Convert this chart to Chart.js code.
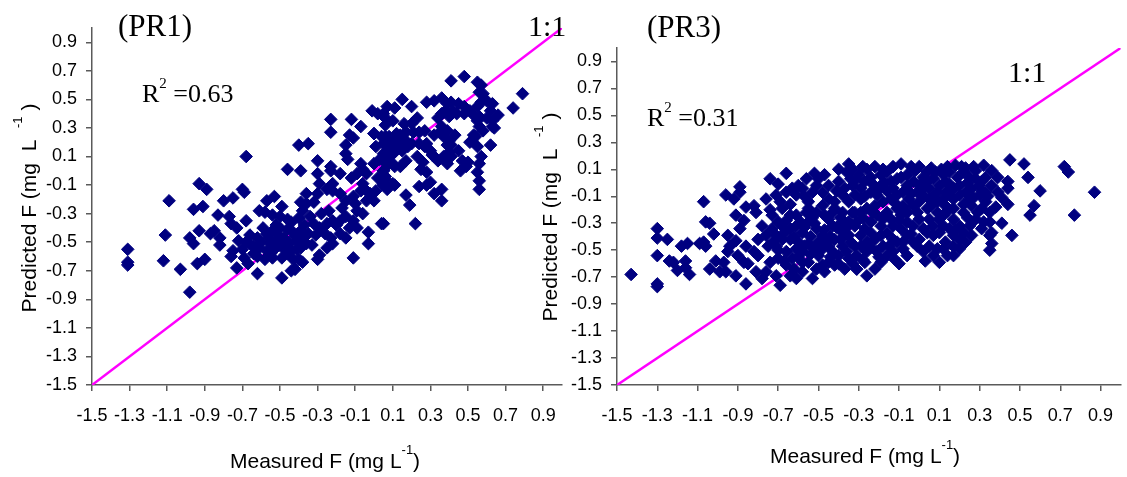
<!DOCTYPE html>
<html>
<head>
  <title>Predicted vs measured F</title>
  <style>
    body { margin: 0; background: #fff; width: 1127px; height: 477px; overflow: hidden; position: relative; }
    .box { position: absolute; top: 0; }
    #leftBox { left: 0; }
    #rightBox { left: 528px; }
  </style>
</head>
<body>
  <div class="box" id="leftBox"><canvas id="pr1" width="575" height="477"></canvas></div>
  <div class="box" id="rightBox"><canvas id="pr3" width="600" height="477"></canvas></div>

  <script src="https://cdn.jsdelivr.net/npm/chart.js"></script>
  <script>
    // axis ticks, same on both panels and both axes
    const tickValues = [-1.5, -1.3, -1.1, -0.9, -0.7, -0.5, -0.3, -0.1, 0.1, 0.3, 0.5, 0.7, 0.9];
    const axisMin = -1.5;
    const axisMax = 1.0;
    const oneToOne = [-1.5, 1.0];

    // PR1: [measured, predicted]
    const pr1Points = [
      [-1.31,-0.55],[-1.31,-0.64],[-1.31,-0.66],[-1.11,-0.45],[-1.12,-0.63],[-1.09,-0.21],[-1.03,-0.69],[-0.98,-0.85],
      [-0.94,-0.65],[-0.90,-0.62],[-0.98,-0.47],[-0.96,-0.51],[-0.93,-0.42],[-0.96,-0.27],[-0.91,-0.25],[-0.93,-0.09],
      [-0.89,-0.13],[-0.83,-0.31],[-0.80,-0.21],[-0.75,-0.19],[-0.70,-0.13],[-0.69,-0.15],[-0.87,-0.44],[-0.85,-0.42],
      [-0.82,-0.47],[-0.82,-0.52],[-0.77,-0.32],[-0.76,-0.37],[-0.73,-0.40],[-0.68,-0.35],[-0.72,-0.49],[-0.75,-0.56],
      [-0.76,-0.60],[-0.73,-0.68],[-0.69,-0.61],[-0.67,-0.65],[-0.64,-0.58],[-0.62,-0.72],[-0.57,-0.21],[-0.53,-0.18],
      [-0.61,-0.28],[-0.58,-0.29],[-0.54,-0.31],[-0.49,-0.25],[-0.50,-0.32],[-0.46,-0.34],[-0.50,-0.40],[-0.54,-0.42],
      [-0.57,-0.44],[-0.62,-0.47],[-0.66,-0.51],[-0.61,-0.54],[-0.57,-0.56],[-0.55,-0.51],[-0.52,-0.49],[-0.54,-0.61],
      [-0.49,-0.61],[-0.46,-0.58],[-0.44,-0.56],[-0.41,-0.49],[-0.43,-0.43],[-0.39,-0.42],[-0.38,-0.47],[-0.36,-0.51],
      [-0.39,-0.54],[-0.40,-0.62],[-0.38,-0.64],[-0.49,-0.75],[-0.44,-0.70],[-0.42,-0.69],[-0.30,-0.62],[-0.29,-0.59],
      [-0.25,-0.54],[-0.22,-0.51],[-0.23,-0.47],[-0.18,-0.44],[-0.15,-0.47],[-0.11,-0.61],[-0.03,-0.43],[-0.03,-0.51],
      [0.04,-0.37],[-0.09,-0.40],[-0.11,-0.35],[-0.09,-0.28],[-0.15,-0.32],[-0.18,-0.35],[-0.22,-0.35],[-0.25,-0.37],
      [-0.29,-0.40],[-0.32,-0.37],[-0.34,-0.32],[-0.38,-0.28],[-0.39,-0.22],[-0.36,-0.23],[-0.32,-0.22],[-0.30,-0.16],
      [-0.36,-0.16],[-0.29,-0.09],[-0.25,-0.13],[-0.22,-0.09],[-0.22,-0.14],[-0.18,-0.16],[-0.15,-0.21],[-0.11,-0.18],
      [-0.07,-0.14],[-0.06,-0.09],[-0.04,-0.14],[-0.04,-0.21],[0.00,-0.21],[0.01,-0.14],[0.05,-0.09],[0.06,-0.04],
      [0.07,-0.13],[0.10,-0.09],[0.11,0.03],[0.08,0.05],[0.05,0.00],[0.00,0.05],[-0.06,0.01],[-0.07,0.05],
      [-0.09,-0.02],[-0.04,-0.02],[-0.15,0.12],[-0.14,0.08],[-0.15,0.18],[-0.11,0.23],[-0.13,0.25],[-0.23,0.00],
      [-0.30,0.07],[-0.30,-0.02],[-0.23,0.03],[-0.39,0.00],[-0.46,0.01],[-0.40,0.18],[-0.35,0.19],[-0.68,0.10],
      [-0.23,0.27],[0.00,0.26],[0.04,0.24],[0.09,0.21],[0.12,0.26],[0.12,0.17],[0.10,0.12],[0.07,0.14],
      [0.03,0.08],[0.01,0.17],[-0.23,0.36],[-0.12,0.36],[-0.07,0.31],[-0.01,0.42],[0.00,0.26],[0.02,0.40],
      [-0.70,-0.55],[-0.68,-0.50],[-0.66,-0.45],[-0.64,-0.53],[-0.62,-0.60],[-0.60,-0.50],[-0.59,-0.40],[-0.58,-0.62],
      [-0.56,-0.47],[-0.55,-0.58],[-0.53,-0.55],[-0.52,-0.38],[-0.51,-0.45],[-0.50,-0.52],[-0.48,-0.47],[-0.47,-0.56],
      [-0.46,-0.41],[-0.45,-0.51],[-0.44,-0.36],[-0.43,-0.62],[-0.42,-0.46],[-0.41,-0.55],[-0.40,-0.33],[-0.37,-0.38],
      [-0.35,-0.44],[-0.33,-0.52],[-0.31,-0.45],[-0.28,-0.30],[-0.26,-0.44],[-0.24,-0.28],[-0.20,-0.38],[-0.17,-0.26],
      [-0.13,-0.40],[-0.10,-0.23],[-0.06,-0.30],[-0.02,-0.16],[0.02,-0.05],[-0.12,-0.05],[-0.18,-0.02],
      [0.41,0.63],[0.48,0.66],[0.55,0.62],[0.57,0.60],[0.56,0.55],[0.58,0.54],[0.79,0.54],[0.74,0.44],
      [0.15,0.50],[0.20,0.45],[0.28,0.48],[0.32,0.49],[0.36,0.51],[0.39,0.47],[0.41,0.48],[0.45,0.47],
      [0.48,0.45],[0.38,0.42],[0.42,0.42],[0.36,0.40],[0.34,0.37],[0.40,0.38],[0.44,0.40],[0.48,0.40],
      [0.51,0.42],[0.55,0.45],[0.57,0.48],[0.60,0.49],[0.63,0.47],[0.62,0.42],[0.66,0.39],[0.63,0.35],
      [0.60,0.37],[0.56,0.38],[0.55,0.35],[0.53,0.39],[0.56,0.31],[0.63,0.31],[0.64,0.30],[0.58,0.28],
      [0.53,0.25],[0.52,0.21],[0.55,0.17],[0.54,0.24],[0.51,0.20],[0.62,0.18],[0.57,0.10],[0.56,0.05],
      [0.50,0.06],[0.47,0.07],[0.49,0.03],[0.46,0.00],[0.55,-0.01],[0.56,-0.07],[0.56,-0.13],[0.45,0.14],
      [0.41,0.18],[0.40,0.21],[0.43,0.25],[0.39,0.28],[0.36,0.31],[0.35,0.27],[0.37,0.24],[0.39,0.18],
      [0.40,0.13],[0.41,0.10],[0.37,0.10],[0.39,0.05],[0.34,0.07],[0.32,0.10],[0.30,0.14],[0.27,0.17],
      [0.24,0.19],[0.27,0.28],[0.24,0.27],[0.21,0.27],[0.17,0.27],[0.14,0.25],[0.11,0.21],[0.08,0.24],
      [0.06,0.24],[0.05,0.19],[0.08,0.14],[0.11,0.13],[0.15,0.14],[0.18,0.17],[0.20,0.19],[0.17,0.21],
      [0.13,0.18],[0.09,0.18],[0.06,0.32],[0.06,0.37],[0.10,0.35],[0.11,0.44],[0.07,0.45],[0.05,0.40],
      [0.05,0.12],[0.08,0.10],[0.05,0.07],[0.07,0.05],[0.05,0.00],[0.10,0.05],[0.14,0.03],[0.06,-0.06],
      [0.05,-0.10],[0.11,-0.10],[0.17,0.07],[0.23,0.10],[0.26,0.06],[0.25,0.01],[0.28,-0.01],[0.31,0.11],
      [0.24,-0.11],[0.28,-0.10],[0.30,-0.08],[0.32,-0.16],[0.36,-0.13],[0.36,-0.21],[0.17,-0.17],[0.19,-0.24],
      [0.05,-0.37],[0.22,-0.37],[0.32,0.25],[0.28,0.19],[0.20,0.33],[0.23,0.37],[0.16,0.33]
    ];

    // PR3: [measured, predicted]
    const pr3Points = [
      [-1.43,-0.68],[-1.30,-0.75],[-1.30,-0.77],[-1.30,-0.34],[-1.30,-0.41],[-1.25,-0.42],[-1.30,-0.54],[-1.24,-0.58],
      [-1.22,-0.59],[-1.20,-0.65],[-1.18,-0.47],[-1.15,-0.45],[-1.16,-0.58],[-1.16,-0.63],[-1.14,-0.68],[-1.09,-0.45],
      [-1.07,-0.44],[-1.06,-0.47],[-1.07,-0.14],[-1.06,-0.29],[-1.04,-0.30],[-1.02,-0.38],[-1.04,-0.64],[-1.01,-0.58],
      [-0.99,-0.66],[-0.96,-0.66],[-0.96,-0.09],[-0.92,-0.12],[-0.89,-0.03],[-0.89,-0.07],[-0.95,-0.39],[-0.94,-0.47],
      [-0.91,-0.43],[-0.95,-0.51],[-0.97,-0.59],[-0.91,-0.69],[-0.86,-0.75],[-0.90,-0.54],[-0.87,-0.59],[-0.85,-0.60],
      [-0.91,-0.24],[-0.87,-0.28],[-0.89,-0.34],[-0.86,-0.18],[-0.82,-0.17],[-0.81,-0.22],[-0.86,-0.47],[-0.82,-0.51],
      [-0.80,-0.54],[-0.81,-0.66],[-0.78,-0.71],[-0.74,0.03],[-0.70,-0.01],[-0.66,0.07],[-0.63,-0.04],[-0.76,-0.12],
      [-0.71,-0.09],[-0.69,-0.14],[-0.64,-0.16],[-0.61,-0.24],[-0.76,-0.39],[-0.73,-0.34],[-0.75,-0.47],[-0.71,-0.47],
      [-0.68,-0.42],[-0.66,-0.51],[-0.70,-0.56],[-0.74,-0.59],[-0.76,-0.66],[-0.71,-0.69],[-0.69,-0.76],[-0.66,-0.61],
      [-0.63,-0.56],[-0.61,-0.49],[-0.60,-0.44],[-0.58,-0.37],[-0.59,-0.29],[-0.56,-0.22],[-0.55,-0.14],[-0.53,-0.07],
      [-0.52,0.07],[-0.47,0.06],[-0.51,-0.02],[-0.48,-0.07],[-0.45,-0.12],[-0.40,0.10],[-0.35,0.14],[-0.40,0.01],
      [-0.37,-0.04],[-0.34,0.03],[-0.32,-0.09],[-0.33,-0.22],[-0.35,-0.29],[-0.38,-0.37],[-0.42,-0.42],[-0.45,-0.47],
      [-0.48,-0.39],[-0.51,-0.34],[-0.55,-0.29],[-0.52,-0.49],[-0.50,-0.54],[-0.55,-0.59],[-0.58,-0.66],[-0.53,-0.71],
      [-0.47,-0.66],[-0.45,-0.59],[-0.40,-0.54],[-0.37,-0.64],[-0.35,-0.56],[-0.32,-0.47],[-0.31,-0.64],[-0.38,-0.22],
      [-0.42,-0.19],[-0.47,-0.24],[-0.43,-0.32],[-0.61,-0.71],[-0.64,-0.69],[-0.68,-0.32],[-0.64,-0.34],[-0.55,-0.45],
      [-0.56,0.03],[-0.50,0.03],[-0.45,-0.02],[-0.38,-0.09],[-0.35,-0.14],[-0.42,-0.14],[-0.48,-0.17],[-0.51,-0.22],
      [-0.45,-0.27],[-0.38,-0.29],[-0.32,-0.32],[-0.35,-0.39],[-0.32,-0.22],[-0.61,-0.32],[-0.64,-0.42],[-0.58,-0.51],
      [-0.48,-0.49],[-0.43,-0.51],[-0.38,-0.47],[-0.58,-0.59],[-0.51,-0.64],[-0.42,-0.61],[-0.68,-0.19],[-0.64,-0.24],
      [-0.73,-0.24],[-0.78,-0.32],[-0.80,-0.42],[-0.71,-0.39],[-0.61,-0.09],[-0.58,-0.04],[-0.66,-0.07],
      [-0.60,-0.02],[-0.57,-0.10],[-0.55,-0.19],[-0.53,-0.26],[-0.57,-0.33],[-0.54,-0.40],[-0.50,-0.44],[-0.47,-0.35],
      [-0.44,-0.40],[-0.41,-0.33],[-0.39,-0.26],[-0.41,-0.06],[-0.36,0.08],[-0.30,0.06],[-0.29,-0.12],[-0.28,-0.26],
      [-0.34,-0.44],[-0.28,-0.57],[-0.33,-0.60],[-0.36,-0.51],[-0.40,-0.60],[-0.44,-0.55],[-0.48,-0.61],[-0.54,-0.53],
      [-0.60,-0.55],[-0.62,-0.64],[-0.67,-0.58],[-0.70,-0.50],[-0.72,-0.43],[-0.67,-0.37],[-0.70,-0.29],[-0.74,-0.20],
      [-0.66,-0.28],[-0.62,-0.40],[-0.57,-0.47],[-0.52,-0.30],[-0.46,-0.44],[-0.43,-0.22],[-0.39,-0.42],[-0.36,-0.33],
      [-0.09,0.14],[0.00,0.12],[0.04,0.08],[0.18,0.13],[0.32,0.13],[0.36,0.09],[0.45,0.17],[0.52,0.14],
      [0.54,0.04],[0.60,-0.06],[0.57,-0.17],[0.55,-0.24],[0.72,0.12],[0.74,0.08],[0.77,-0.24],[0.87,-0.07],
      [0.44,0.01],[0.44,-0.04],[0.39,-0.07],[0.44,-0.16],[0.38,-0.18],[0.41,-0.30],[0.46,-0.39],[0.35,-0.29],
      [0.36,-0.37],[0.35,-0.39],[0.36,-0.45],[0.35,-0.50],[-0.31,0.03],[-0.26,0.10],[-0.22,0.12],[-0.19,0.06],
      [-0.16,0.08],[-0.29,-0.04],[-0.24,-0.07],[-0.19,-0.02],[-0.14,0.01],[-0.11,0.03],[-0.06,0.06],[-0.03,0.01],
      [0.00,-0.02],[0.07,0.03],[0.12,0.06],[0.15,0.08],[0.22,0.08],[0.25,0.04],[0.28,0.03],[0.31,0.01],
      [0.33,0.04],[0.36,-0.02],[0.30,-0.09],[0.25,-0.12],[0.20,-0.09],[0.17,-0.04],[0.13,-0.07],[0.10,-0.02],
      [0.05,-0.04],[0.02,-0.09],[-0.01,-0.07],[-0.05,-0.12],[-0.08,-0.07],[-0.11,-0.09],[-0.14,-0.12],[-0.18,-0.14],
      [-0.22,-0.17],[-0.26,-0.19],[-0.29,-0.22],[-0.31,-0.29],[-0.27,-0.34],[-0.24,-0.29],[-0.21,-0.24],[-0.16,-0.22],
      [-0.11,-0.19],[-0.06,-0.22],[-0.03,-0.17],[0.00,-0.14],[0.04,-0.19],[0.09,-0.14],[0.13,-0.17],[0.17,-0.19],
      [0.22,-0.22],[0.26,-0.17],[0.31,-0.19],[0.35,-0.22],[0.28,-0.27],[0.25,-0.32],[0.22,-0.37],[0.20,-0.42],
      [0.17,-0.47],[0.13,-0.44],[0.10,-0.37],[0.07,-0.32],[0.04,-0.37],[0.00,-0.27],[-0.03,-0.32],[-0.06,-0.29],
      [-0.09,-0.34],[-0.13,-0.32],[-0.16,-0.37],[-0.19,-0.39],[-0.22,-0.42],[-0.26,-0.44],[-0.29,-0.47],[-0.31,-0.54],
      [-0.31,-0.64],[-0.26,-0.69],[-0.22,-0.64],[-0.16,-0.54],[-0.13,-0.51],[-0.10,-0.60],[-0.06,-0.54],[-0.01,-0.47],
      [0.02,-0.51],[0.07,-0.54],[0.10,-0.59],[0.14,-0.54],[0.17,-0.54],[0.20,-0.49],[0.23,-0.44],[0.26,-0.39],
      [0.17,-0.39],[0.05,-0.47],[0.00,-0.42],[-0.18,-0.47],[-0.21,-0.51],[-0.11,-0.44],[0.09,-0.22],[0.12,-0.24],
      [0.17,-0.27],[0.20,-0.32],[0.31,-0.34],
      [-0.27,0.01],[-0.21,-0.09],[-0.13,-0.04],[-0.06,-0.02],[0.04,0.01],[0.09,-0.07],[0.13,0.01],[0.20,-0.02],
      [0.23,-0.07],[0.26,-0.04],[0.30,-0.02],[0.33,-0.07],[0.33,-0.14],[0.22,-0.16],[0.17,-0.12],[0.12,-0.12],
      [0.05,-0.12],[-0.01,-0.22],[-0.09,-0.24],[-0.14,-0.27],[-0.19,-0.32],[-0.24,-0.37],[-0.29,-0.39],[0.05,-0.27],
      [0.12,-0.32],[0.15,-0.34],[0.07,-0.39],[-0.06,-0.39],[-0.13,-0.42],[-0.03,-0.44],[-0.08,-0.49],[0.09,-0.49],
      [-0.26,-0.51],[-0.27,-0.59],[-0.19,-0.59],
      [-0.24,0.04],[-0.20,-0.05],[-0.17,0.00],[-0.12,-0.15],[-0.08,-0.17],[-0.04,-0.08],[-0.02,0.09],[0.02,0.04],
      [0.06,-0.17],[0.08,0.08],[0.10,-0.27],[0.14,-0.21],[0.15,-0.09],[0.19,0.04],[0.24,-0.26],[0.27,-0.11],
      [0.29,-0.22],[0.32,-0.29],[0.34,-0.10],[0.28,0.09],[0.23,0.11],[0.11,0.10],[-0.04,-0.38],[-0.08,-0.44],
      [-0.15,-0.47],[-0.24,-0.48],[-0.20,-0.55],[-0.12,-0.57],[0.03,-0.58],[0.12,-0.49],[0.18,-0.35],[0.02,-0.34],
      [-0.10,-0.28],[-0.18,-0.27],[-0.23,-0.22],[-0.27,-0.10],
      [-0.33,0.10],[-0.28,0.12],[-0.18,0.10],[-0.13,0.12],[-0.04,0.12],[0.06,0.11],[0.14,0.12],[0.21,0.12],
      [0.27,0.12],[-0.33,-0.02],[-0.23,-0.01],[-0.16,-0.06],[-0.09,0.04],[0.02,-0.04],[0.07,-0.10],[0.15,-0.01],
      [0.24,0.00],[0.31,-0.06],[0.39,0.04],[0.41,-0.11]
    ];

    const SANS = "'Liberation Sans', Arial, sans-serif";
    const SERIF = "'Liberation Serif', 'Times New Roman', serif";
    const axisGray = '#5a5a5a';

    // draw a run of text pieces (for superscripts), optionally rotated
    function drawParts(ctx, parts, x, y, rotate, center) {
      ctx.save();
      ctx.translate(x, y);
      if (rotate) ctx.rotate(-Math.PI / 2);
      ctx.fillStyle = '#000';
      ctx.textAlign = 'left';
      ctx.textBaseline = 'alphabetic';
      let total = 0;
      parts.forEach(p => { ctx.font = p.font; total += ctx.measureText(p.text).width; });
      let cx = center ? -total / 2 : 0;
      parts.forEach(p => {
        ctx.font = p.font;
        ctx.fillText(p.text, cx, -(p.rise || 0));
        cx += ctx.measureText(p.text).width;
      });
      ctx.restore();
    }

    function textPlugin(lab) {
      return {
        id: 'panelText',
        afterDraw(chart) {
          const ctx = chart.ctx;
          drawParts(ctx, [{ text: lab.name, font: '31px ' + SERIF }], lab.namePos[0], lab.namePos[1]);
          drawParts(ctx, [{ text: '1:1', font: '30px ' + SERIF }], lab.linePos[0], lab.linePos[1]);
          drawParts(ctx, [
            { text: 'R', font: '26px ' + SERIF },
            { text: '2', font: '15px ' + SERIF, rise: 14 },
            { text: ' =' + lab.r2, font: '26px ' + SERIF }
          ], lab.r2Pos[0], lab.r2Pos[1]);
          drawParts(ctx, [
            { text: 'Measured F (mg L', font: '21px ' + SANS },
            { text: '-1', font: '13px ' + SANS, rise: 14 },
            { text: ')', font: '21px ' + SANS }
          ], lab.xTitlePos[0], lab.xTitlePos[1]);
          drawParts(ctx, [
            { text: 'Predicted F (mg  L  ', font: '21px ' + SANS },
            { text: '-1', font: '13px ' + SANS, rise: 14 },
            { text: ' )', font: '21px ' + SANS }
          ], lab.yTitlePos[0], lab.yTitlePos[1], true, true);
        }
      };
    }

    function axisOptions(fit, pad) {
      return {
        type: 'linear',
        min: axisMin,
        max: axisMax,
        afterBuildTicks: s => { s.ticks = tickValues.map(v => ({ value: v })); },
        afterFit: fit,
        grid: { drawOnChartArea: false, drawTicks: true, tickLength: 6, color: axisGray, lineWidth: 1.5 },
        border: { display: true, color: axisGray, width: 1.5 },
        ticks: {
          autoSkip: false,
          maxRotation: 0,
          padding: pad,
          color: '#000',
          font: { family: SANS, size: 18 },
          callback: v => v.toFixed(1)
        }
      };
    }

    function makePanel(id, points, lab) {
      return new Chart(document.getElementById(id), {
        type: 'scatter',
        data: {
          datasets: [
            {
              data: points.map(p => ({ x: p[0], y: p[1] })),
              pointStyle: 'rectRot',
              pointRadius: 6.3,
              borderWidth: 1,
              backgroundColor: '#000080',
              borderColor: '#000080',
              order: 1
            },
            {
              data: oneToOne.map(v => ({ x: v, y: v })),
              showLine: true,
              pointRadius: 0,
              borderColor: '#ff00ff',
              borderWidth: 2.5,
              order: 2
            }
          ]
        },
        options: {
          responsive: false,
          animation: false,
          layout: { padding: { top: lab.top, right: lab.right, left: 0, bottom: 0 } },
          plugins: { legend: { display: false }, tooltip: { enabled: false } },
          scales: {
            x: axisOptions(s => { s.height = 92; }, 14),
            y: axisOptions(s => { s.width = lab.yWidth; }, 9)
          }
        },
        plugins: [textPlugin(lab)]
      });
    }

    makePanel('pr1', pr1Points, {
      name: '(PR1)', r2: '0.63',
      top: 28, right: 13, yWidth: 92,
      namePos: [118, 36], linePos: [528, 36], r2Pos: [142, 102],
      xTitlePos: [230, 468], yTitlePos: [36, 208]
    });

    // right canvas starts at page x 528
    makePanel('pr3', pr3Points, {
      name: '(PR3)', r2: '0.31',
      top: 48, right: 0, yWidth: 89,
      namePos: [119, 37], linePos: [480, 82], r2Pos: [119, 126],
      xTitlePos: [242, 463], yTitlePos: [29, 217]
    });
  </script>
</body>
</html>
